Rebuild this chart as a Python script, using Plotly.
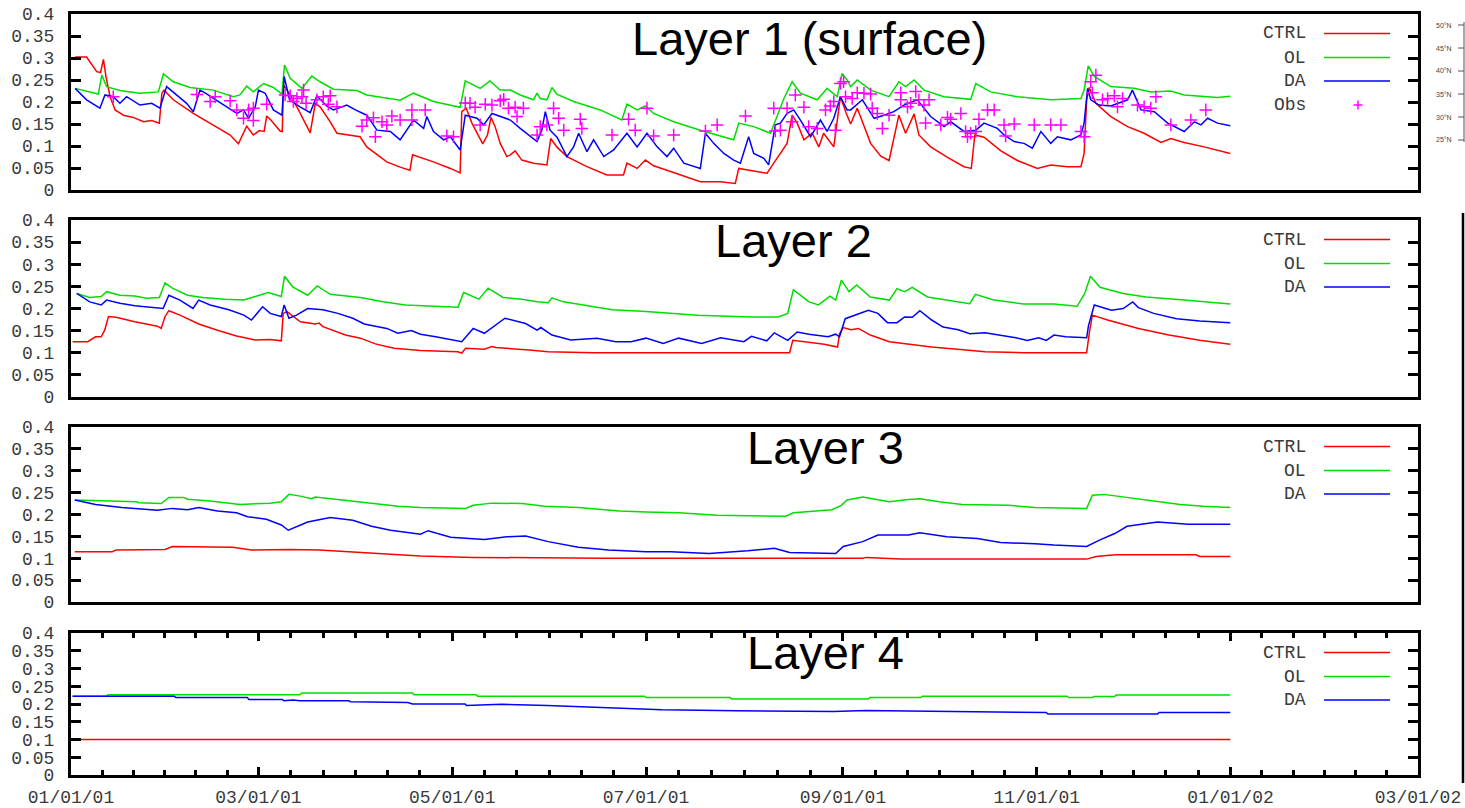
import pandas as pd
import plotly.graph_objects as go

W, H = 1465, 808
BASE = pd.Timestamp("2001-01-01")

# ---------------- data (days since 2001-01-01, volumetric soil moisture) -------------
p1_ctrl_d = [1.3,4.9,8.1,9.3,10.2,11.0,12.3,13.9,16.5,19.6,22.8,25.4,27.8,28.6,29.3,32.2,38.5,44.8,50.1,52.7,55.3,57.4,59.3,60.8,61.6,62.9,65.8,66.5,66.9,69.0,71.6,75.3,76.9,78.4,81.6,83.7,86.8,91.0,93.1,96.3,99.4,103.6,106.7,107.5,114.1,119.4,122.5,123.0,124.4,126.2,128.3,129.6,131.1,132.2,133.5,135.1,137.2,138.3,139.8,141.9,145.6,149.8,151.0,152.9,156.1,162.4,168.7,173.9,175.0,178.2,180.8,183.4,187.6,192.9,198.1,204.4,209.1,210.2,213.9,219.1,221.2,223.3,225.4,227.0,228.6,230.7,233.3,235.4,236.9,240.1,242.2,244.0,245.4,247.5,251.7,254.9,257.5,260.6,262.7,265.4,266.9,270.6,275.9,281.1,283.4,284.5,287.4,292.7,297.9,304.2,308.4,313.7,317.9,318.9,319.7,320.5,322.6,327.3,332.6,337.8,343.1,346.2,350.4,356.7,364.9]
p1_ctrl_v = [.302,.302,.269,.267,.297,.258,.212,.182,.170,.165,.155,.158,.152,.220,.227,.205,.174,.148,.125,.105,.145,.125,.135,.133,.168,.159,.134,.133,.239,.216,.182,.130,.197,.189,.155,.129,.125,.121,.098,.080,.064,.052,.045,.080,.064,.049,.039,.178,.186,.152,.121,.105,.125,.165,.144,.106,.076,.080,.089,.068,.061,.057,.117,.098,.076,.053,.034,.034,.061,.049,.068,.055,.045,.032,.019,.019,.015,.049,.044,.038,.061,.083,.106,.170,.152,.114,.129,.098,.129,.098,.212,.175,.150,.186,.106,.077,.067,.170,.129,.173,.125,.098,.074,.053,.049,.125,.120,.089,.067,.049,.057,.053,.053,.083,.205,.233,.197,.167,.144,.129,.108,.117,.108,.098,.083]

p1_ol_d = [1.3,8.6,9.7,11.2,15.4,21.7,27.5,29.1,32.2,37.5,44.8,51.1,53.2,55.3,57.4,60.6,63.7,66.4,67.2,69.0,72.7,75.8,78.4,82.6,90.0,93.1,103.6,107.8,114.1,122.5,124.1,128.8,131.9,135.1,138.3,141.4,145.6,146.7,147.7,149.8,151.4,152.9,158.2,166.6,173.4,175.0,178.2,180.8,183.4,189.7,198.1,208.6,210.2,214.9,220.2,221.7,224.4,227.0,229.6,234.9,238.0,241.2,242.7,244.3,245.4,247.5,251.7,257.5,260.6,262.7,265.4,268.5,274.8,283.2,284.8,289.5,297.9,308.4,317.9,318.9,320.2,322.1,327.3,334.7,339.9,346.2,350.4,360.9,364.9]
p1_ol_v = [.231,.218,.261,.235,.226,.220,.223,.264,.246,.233,.227,.212,.216,.236,.223,.242,.233,.218,.284,.254,.231,.259,.246,.229,.226,.216,.204,.220,.201,.188,.248,.231,.248,.227,.227,.216,.205,.220,.208,.205,.233,.218,.201,.182,.159,.195,.182,.191,.174,.155,.136,.114,.152,.144,.129,.159,.208,.246,.220,.205,.231,.212,.265,.250,.235,.250,.227,.212,.246,.235,.250,.227,.212,.206,.242,.223,.212,.205,.208,.227,.282,.258,.235,.231,.223,.225,.216,.210,.213]

p1_da_d = [1.3,4.9,9.1,10.7,13.3,15.4,17.5,21.7,25.4,28.0,30.1,32.2,36.4,38.5,40.6,42.3,44.8,49.0,52.2,54.3,55.9,58.0,59.0,61.1,63.7,66.4,67.1,68.8,72.1,75.3,77.4,80.5,82.6,86.8,89.5,93.1,96.3,100.5,103.6,107.8,111.0,112.0,114.1,117.3,119.4,122.5,124.1,127.8,129.9,132.5,135.1,138.3,141.4,144.6,146.7,148.2,149.3,150.8,153.0,156.1,158.2,159.8,162.4,164.5,167.7,170.8,175.0,178.2,181.3,184.5,187.6,189.7,192.9,198.1,199.7,202.3,205.5,208.6,210.7,213.3,214.9,218.1,219.6,221.7,223.3,225.4,227.5,229.6,232.8,235.9,238.0,240.1,242.2,244.3,245.4,249.1,252.8,255.9,259.0,262.2,266.4,270.6,274.8,276.9,281.1,284.8,287.4,291.6,293.7,296.9,300.0,302.6,305.3,308.4,310.5,314.7,317.9,318.9,320.0,321.0,323.6,327.3,332.6,334.1,336.8,341.0,345.2,350.4,353.6,355.7,357.8,360.9,364.9]
p1_da_v = [.231,.205,.186,.216,.212,.197,.212,.193,.197,.186,.235,.223,.197,.178,.227,.220,.208,.189,.174,.182,.163,.189,.227,.220,.182,.170,.258,.205,.189,.176,.214,.191,.182,.193,.182,.170,.136,.133,.114,.159,.140,.167,.133,.114,.121,.091,.170,.163,.148,.174,.167,.159,.140,.121,.110,.136,.178,.136,.120,.076,.098,.129,.087,.114,.076,.091,.129,.098,.129,.098,.076,.095,.061,.049,.129,.106,.083,.068,.061,.121,.083,.072,.057,.148,.152,.174,.182,.159,.121,.159,.133,.163,.212,.182,.182,.205,.163,.170,.178,.193,.205,.167,.144,.155,.133,.136,.152,.140,.125,.110,.106,.095,.133,.106,.121,.114,.125,.152,.231,.205,.193,.191,.205,.227,.182,.178,.152,.133,.155,.148,.163,.152,.146]

p1_obs_d = [13.3,39.6,43.8,45.4,50.1,52.2,54.3,55.9,57.4,57.4,61.6,67.4,69.0,70.0,71.1,72.7,73.2,74.0,77.4,79.4,81.0,81.6,83.7,91.6,93.1,95.2,95.8,97.9,99.4,101.0,103.6,107.3,107.3,111.5,118.3,120.4,124.1,125.6,127.2,128.8,130.4,132.5,135.1,136.2,137.7,139.8,140.4,142.4,146.7,147.7,149.8,151.9,153.5,155.1,160.3,160.8,170.3,175.5,177.6,181.3,183.4,189.7,199.7,203.4,212.3,221.2,221.7,223.3,225.4,227.0,228.0,230.7,232.2,234.9,237.5,239.0,240.1,240.6,242.2,243.2,243.8,245.9,247.5,249.6,251.7,252.2,253.8,255.4,257.5,261.2,261.2,263.3,264.3,265.9,266.9,268.5,269.0,270.1,273.8,275.9,276.9,280.1,281.6,282.2,283.2,284.8,285.8,288.5,290.6,293.7,294.2,296.9,303.2,308.4,311.6,317.9,318.9,321.0,321.5,322.6,324.7,326.3,328.4,329.4,331.0,335.7,337.8,339.9,341.5,346.2,352.5,357.2]
p1_obs_v = [.212,.217,.201,.212,.203,.182,.163,.182,.186,.158,.195,.216,.214,.201,.208,.212,.227,.197,.205,.212,.195,.214,.189,.145,.159,.164,.121,.155,.148,.168,.159,.182,.159,.182,.123,.121,.198,.197,.188,.148,.195,.193,.203,.206,.186,.188,.167,.186,.125,.144,.148,.186,.163,.136,.161,.140,.125,.161,.136,.186,.123,.125,.134,.148,.168,.186,.134,.136,.186,.155,.216,.188,.144,.140,.182,.191,.201,.136,.242,.246,.212,.208,.221,.220,.218,.186,.174,.140,.170,.205,.221,.189,.197,.224,.205,.193,.152,.205,.148,.165,.161,.174,.133,.121,.129,.133,.161,.182,.182,.148,.123,.150,.148,.148,.148,.133,.121,.246,.221,.261,.205,.208,.214,.189,.208,.193,.189,.186,.212,.148,.159,.182]

p2_ctrl_d = [0.5,5.3,7.7,9.5,10.6,11.8,14.2,20.1,27.2,28.4,29.6,30.8,34.3,40.2,46.1,52.1,58.0,62.7,66.2,66.8,68.0,72.2,76.9,78.1,79.3,86.4,91.1,95.8,101.7,110.0,121.8,123.0,124.2,130.1,132.5,133.7,144.3,150.2,164.4,226.2,227.2,232.3,237.1,241.3,241.9,243.1,245.5,247.9,251.6,257.6,263.6,270.9,281.7,287.7,299.8,319.7,320.5,321.5,326.3,336.0,345.6,355.3,364.9]
p2_ctrl_v = [.125,.125,.136,.136,.151,.182,.180,.170,.160,.155,.182,.195,.185,.165,.151,.138,.129,.130,.127,.189,.193,.170,.165,.167,.159,.140,.133,.120,.110,.105,.102,.099,.110,.108,.114,.112,.106,.102,.100,.100,.128,.123,.119,.113,.143,.157,.152,.155,.140,.125,.119,.113,.106,.102,.100,.100,.143,.185,.174,.155,.140,.128,.119]

p2_ol_d = [1.8,5.9,9.5,11.2,15.4,20.1,23.7,27.8,29.6,31.9,36.7,41.4,48.5,54.4,58.0,62.1,66.2,67.2,69.8,74.5,77.5,81.6,91.1,98.2,105.3,113.6,121.8,123.6,128.4,131.3,136.0,142.0,146.7,150.2,151.4,155.0,162.1,170.4,181.0,191.3,197.3,214.2,222.6,225.6,227.4,232.3,235.3,238.9,240.7,242.5,244.9,247.3,251.6,257.6,260.0,262.4,264.8,269.6,282.9,284.7,290.2,299.8,309.4,316.7,319.1,320.9,323.9,331.2,338.4,350.5,364.9]
p2_ol_v = [.234,.225,.227,.238,.230,.228,.223,.225,.258,.246,.230,.225,.221,.219,.227,.236,.227,.273,.249,.230,.251,.232,.225,.215,.208,.206,.203,.236,.221,.246,.225,.221,.215,.213,.224,.215,.206,.197,.193,.189,.185,.181,.181,.189,.242,.215,.208,.228,.219,.264,.238,.253,.226,.219,.245,.238,.248,.226,.211,.232,.220,.210,.210,.205,.234,.273,.248,.234,.226,.219,.210]

p2_da_d = [1.8,5.9,9.5,11.2,15.4,20.1,29.0,30.8,34.3,38.4,40.2,43.8,49.7,54.4,56.8,60.3,62.7,66.2,67.1,68.6,71.0,74.5,79.3,84.0,88.7,92.3,99.4,102.9,107.1,110.0,114.8,123.0,126.6,130.1,136.6,143.1,146.7,147.9,151.4,157.3,165.6,171.5,176.3,181.0,186.4,191.3,198.5,204.5,211.8,214.2,219.0,221.4,225.6,228.6,232.3,238.3,240.7,241.9,243.7,246.7,251.0,254.0,257.0,260.0,262.4,264.8,267.2,270.9,274.5,279.3,282.9,287.7,297.4,301.0,304.6,307.0,309.4,313.1,319.7,320.3,322.1,323.9,327.5,331.2,334.2,336.0,340.8,348.0,355.3,364.9]
p2_da_v = [.234,.215,.208,.219,.212,.206,.200,.230,.219,.200,.219,.208,.197,.185,.174,.204,.189,.182,.208,.178,.185,.200,.197,.189,.178,.165,.155,.144,.150,.142,.136,.125,.155,.144,.178,.166,.151,.157,.140,.129,.133,.125,.125,.133,.121,.133,.121,.134,.125,.137,.127,.145,.128,.147,.142,.136,.142,.136,.177,.185,.196,.189,.168,.168,.181,.180,.195,.174,.158,.152,.143,.145,.134,.128,.134,.128,.140,.136,.134,.162,.208,.204,.196,.200,.215,.202,.189,.177,.172,.168]

p3_ctrl_d = [1.2,13.0,14.2,29.6,31.9,50.9,56.8,68.6,78.1,87.5,94.6,100.6,110.0,126.6,166.8,249.2,250.4,261.2,319.7,322.7,328.7,354.1,355.3,364.9]
p3_ctrl_v = [.115,.115,.119,.120,.127,.125,.119,.120,.119,.115,.111,.108,.105,.102,.100,.100,.102,.098,.098,.104,.108,.108,.104,.104]

p3_ol_d = [1.2,8.3,20.7,21.3,28.4,30.8,35.5,36.7,43.8,53.2,62.7,66.2,68.6,72.2,75.7,76.9,81.6,91.1,103.0,110.0,124.2,126.6,132.5,142.0,149.1,159.7,166.8,172.7,181.0,191.3,203.3,225.0,227.4,239.5,242.5,244.3,249.2,254.0,257.6,263.6,267.2,273.3,280.5,295.0,303.4,319.7,321.5,325.1,331.2,339.6,349.2,356.5,364.9]
p3_ol_v = [.233,.231,.229,.227,.225,.239,.239,.235,.231,.223,.226,.229,.246,.242,.236,.240,.236,.229,.219,.216,.214,.221,.226,.225,.219,.216,.211,.208,.206,.204,.198,.196,.204,.211,.221,.233,.240,.234,.229,.234,.236,.229,.223,.221,.216,.214,.244,.246,.240,.233,.223,.219,.216]

p3_da_d = [1.2,7.7,16.0,27.2,31.9,36.7,40.2,46.1,52.1,55.6,61.5,66.2,68.4,71.0,74.5,81.6,88.7,94.6,100.6,110.0,112.4,119.5,130.1,137.2,143.1,150.2,159.7,169.2,181.0,188.8,200.9,213.0,221.4,226.2,240.7,243.1,249.2,254.0,263.6,267.2,275.7,285.3,292.6,303.4,309.4,319.7,323.9,328.7,332.4,342.0,351.7,364.9]
p3_da_v = [.233,.223,.216,.210,.214,.211,.216,.208,.204,.195,.189,.176,.164,.172,.183,.193,.187,.173,.164,.155,.163,.148,.143,.149,.151,.138,.125,.119,.115,.115,.111,.117,.123,.113,.111,.127,.138,.153,.153,.158,.149,.145,.136,.133,.130,.127,.142,.157,.173,.183,.178,.178]

p4_ctrl_d = [0.5,364.9]
p4_ctrl_v = [.100,.100]

p4_ol_d = [0.5,11.0,11.7,72.0,72.7,107.5,108.0,127.5,128.0,180.5,181.0,207.5,208.0,251.0,251.5,267.5,268.0,313.5,314.0,321.5,322.0,328.5,329.0,364.9]
p4_ol_v = [.222,.222,.226,.226,.231,.231,.226,.226,.222,.222,.218,.218,.214,.214,.218,.218,.222,.222,.218,.218,.221,.221,.225,.225]

p4_da_d = [0.5,32.5,33.0,55.5,56.0,66.5,67.0,70.0,72.0,87.5,88.0,98.5,99.0,106.0,107.5,124.0,124.5,135.5,150.0,160.0,170.0,186.0,209.5,240.0,250.0,274.0,291.0,307.0,307.5,342.0,342.5,364.9]
p4_da_v = [.222,.222,.218,.218,.213,.213,.209,.211,.209,.209,.206,.206,.204,.204,.200,.200,.196,.199,.196,.193,.188,.184,.181,.179,.182,.180,.177,.176,.172,.172,.176,.176]

layer_titles = ["Layer 1 (surface)", "Layer 2", "Layer 3", "Layer 4"]
y_tickvals = [0, 0.05, 0.1, 0.15, 0.2, 0.25, 0.3, 0.35, 0.4]
y_ticktext = ["0", "0.05", "0.1", "0.15", "0.2", "0.25", "0.3", "0.35", "0.4"]
x_tickdates = ["2001-01-01", "2001-03-01", "2001-05-01", "2001-07-01", "2001-09-01",
               "2001-11-01", "2002-01-01", "2002-03-01"]
x_ticktext = ["01/01/01", "03/01/01", "05/01/01", "07/01/01", "09/01/01",
              "11/01/01", "01/01/02", "03/01/02"]
lat_labels = ["50°N", "45°N", "40°N", "35°N", "30°N", "25°N"]

# ---------------- styling -------------
COL = {"CTRL": "#ff0000", "OL": "#00dd00", "DA": "#0000ff"}
OBS_COL = "#ff00ff"
MONO = "Liberation Mono, DejaVu Sans Mono, monospace"
SANS = "Liberation Sans, Arial, sans-serif"
TXT = "#3a3a3a"

PLOT_L, PLOT_R = 71, 1418
PANELS = [(14, 190), (220, 397), (427, 602), (633, 775)]
TITLE_POS = [(809, 38), (793, 241), (825, 447), (825, 652)]
LEG_ROWS = [19.5, 43.5, 67, 91]


def px(x):
    return x / W


def py(y):
    return 1 - y / H


def to_dates(days):
    return [BASE + pd.Timedelta(days=float(d)) for d in days]


panels = [
    [("CTRL", p1_ctrl_d, p1_ctrl_v), ("OL", p1_ol_d, p1_ol_v), ("DA", p1_da_d, p1_da_v)],
    [("CTRL", p2_ctrl_d, p2_ctrl_v), ("OL", p2_ol_d, p2_ol_v), ("DA", p2_da_d, p2_da_v)],
    [("CTRL", p3_ctrl_d, p3_ctrl_v), ("OL", p3_ol_d, p3_ol_v), ("DA", p3_da_d, p3_da_v)],
    [("CTRL", p4_ctrl_d, p4_ctrl_v), ("OL", p4_ol_d, p4_ol_v), ("DA", p4_da_d, p4_da_v)],
]

fig = go.Figure()
for i, series in enumerate(panels):
    sfx = "" if i == 0 else str(i + 1)
    for name, d, v in series:
        fig.add_trace(go.Scatter(x=to_dates(d), y=v, mode="lines", name=name,
                                 line=dict(color=COL[name], width=1.5),
                                 xaxis="x" + sfx, yaxis="y" + sfx,
                                 showlegend=False, hoverinfo="skip"))
    if i == 0:
        fig.add_trace(go.Scatter(x=to_dates(p1_obs_d), y=p1_obs_v, mode="markers", name="Obs",
                                 marker=dict(symbol="cross-thin", size=9,
                                             line=dict(color=OBS_COL, width=1.5)),
                                 xaxis="x", yaxis="y", showlegend=False, hoverinfo="skip"))

# minor x ticks: six equal subdivisions of each two-month interval
major = [pd.Timestamp(t) for t in x_tickdates]
minor = []
for a, b in zip(major[:-1], major[1:]):
    for k in range(1, 6):
        minor.append(a + (b - a) * k / 6)

layout = dict(width=W, height=H, autosize=False,
              margin=dict(l=0, r=0, t=0, b=0),
              paper_bgcolor="white", plot_bgcolor="white", showlegend=False)

annotations = []
shapes = []
for i, (top, bot) in enumerate(PANELS):
    sfx = "" if i == 0 else str(i + 1)
    last = i == len(PANELS) - 1
    xa = dict(type="date", domain=[px(PLOT_L), px(PLOT_R)], anchor="y" + sfx,
              range=[x_tickdates[0], x_tickdates[-1]],
              showline=True, linewidth=3, linecolor="black", mirror=True,
              showgrid=False, zeroline=False, automargin=False, fixedrange=True)
    if last:
        xa.update(tickmode="array", tickvals=x_tickdates, ticktext=x_ticktext,
                  ticks="inside", ticklen=8, tickwidth=3, tickcolor="black",
                  mirror="ticks", ticklabelstandoff=3,
                  tickfont=dict(family=MONO, size=18, color=TXT),
                  minor=dict(tickmode="array", tickvals=minor, ticks="inside",
                             ticklen=5, tickwidth=3, tickcolor="black"))
    else:
        xa.update(showticklabels=False, ticks="")
    ya = dict(domain=[py(bot), py(top)], anchor="x" + sfx, range=[0, 0.4],
              tickmode="array", tickvals=y_tickvals, ticktext=y_ticktext,
              ticks="inside", ticklen=10, tickwidth=3, tickcolor="black",
              showline=True, linewidth=3, linecolor="black", mirror="ticks",
              showgrid=False, zeroline=False, automargin=False, fixedrange=True,
              ticklabelstandoff=10,
              tickfont=dict(family=MONO, size=18, color=TXT))
    layout["xaxis" + sfx] = xa
    layout["yaxis" + sfx] = ya

    # panel title
    tx, ty = TITLE_POS[i]
    annotations.append(dict(text=layer_titles[i], x=px(tx), y=py(ty), xref="paper", yref="paper",
                            xanchor="center", yanchor="middle", showarrow=False,
                            font=dict(family=SANS, size=47, color="black")))
    # legend
    names = ["CTRL", "OL", "DA"] + (["Obs"] if i == 0 else [])
    for r, nm in enumerate(names):
        yy = top + LEG_ROWS[r]
        annotations.append(dict(text=nm, x=px(1308), y=py(yy), xref="paper", yref="paper",
                                xanchor="right", yanchor="middle", showarrow=False,
                                font=dict(family=MONO, size=18, color=TXT)))
        if nm == "Obs":
            shapes.append(dict(type="line", xref="paper", yref="paper",
                               x0=px(1353.5), x1=px(1362.5), y0=py(yy), y1=py(yy),
                               line=dict(color=OBS_COL, width=1.5)))
            shapes.append(dict(type="line", xref="paper", yref="paper",
                               x0=px(1358), x1=px(1358), y0=py(yy - 4.5), y1=py(yy + 4.5),
                               line=dict(color=OBS_COL, width=1.5)))
        else:
            shapes.append(dict(type="line", xref="paper", yref="paper",
                               x0=px(1324), x1=px(1390), y0=py(yy), y1=py(yy),
                               line=dict(color=COL[nm], width=1.5)))

# small latitude axis fragment at the top right
lat_y = [25, 48, 71, 94, 117, 140]
shapes.append(dict(type="line", xref="paper", yref="paper", x0=px(1464), x1=px(1464),
                   y0=py(22), y1=py(142), line=dict(color="#555", width=1)))
for lab, yy in zip(lat_labels, lat_y):
    shapes.append(dict(type="line", xref="paper", yref="paper", x0=px(1458), x1=px(1464),
                       y0=py(yy), y1=py(yy), line=dict(color="#555", width=1)))
    annotations.append(dict(text=lab, x=px(1454), y=py(yy), xref="paper", yref="paper",
                            xanchor="right", yanchor="middle", showarrow=False,
                            font=dict(family=SANS, size=7, color="#444")))
# long vertical rule on the right edge
shapes.append(dict(type="line", xref="paper", yref="paper", x0=px(1463), x1=px(1463),
                   y0=py(213), y1=py(783), line=dict(color="black", width=2.5)))

layout["annotations"] = annotations
layout["shapes"] = shapes
fig.update_layout(**layout)

fig.write_html("out.html", config={"displayModeBar": False},
               post_script="document.body.style.margin='0px';document.body.style.overflow='hidden';")
